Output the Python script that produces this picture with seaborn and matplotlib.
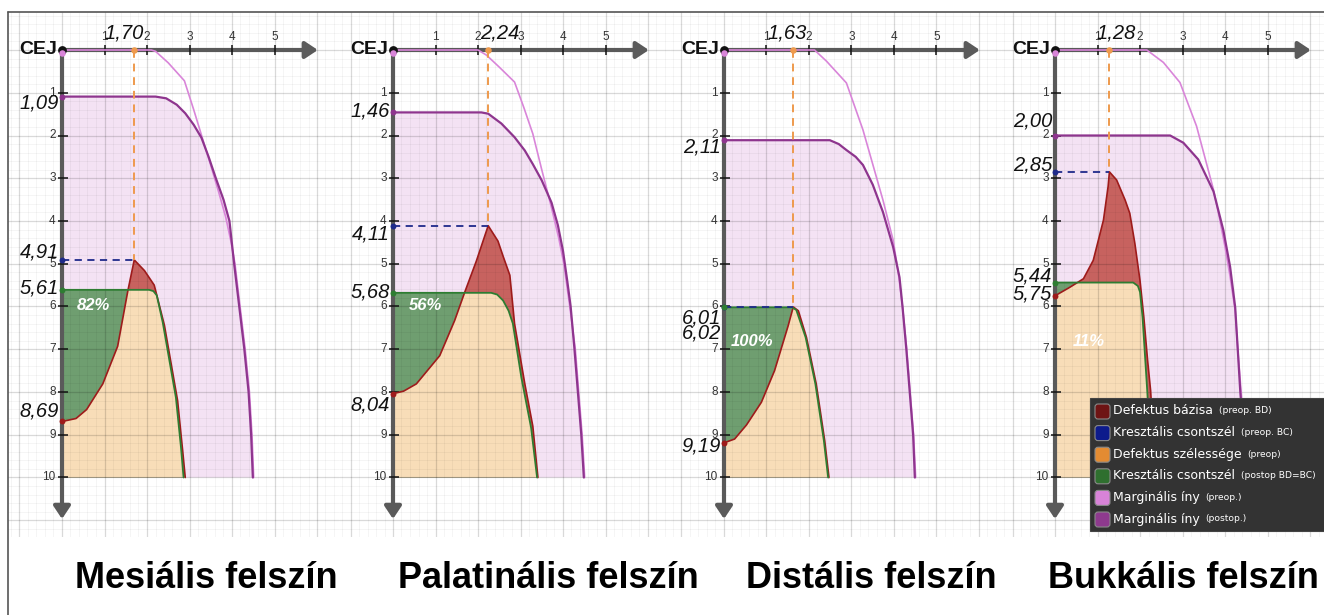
import numpy as np
import matplotlib
matplotlib.use("Agg")
import matplotlib.pyplot as plt
import seaborn as sns
from matplotlib.patches import Rectangle, FancyBboxPatch
from matplotlib.lines import Line2D
from matplotlib.text import Annotation
from matplotlib.transforms import IdentityTransform

# ---------------- DATA ----------------
surfaces = ["Mesiális felszín", "Palatinális felszín", "Distális felszín", "Bukkális felszín"]
defect_width = [1.70, 2.24, 1.63, 1.28]        # Defektus szélessége (preop)
crest_preop = [4.91, 4.11, 6.01, 2.85]         # Kresztális csontszél (preop BC)
defect_base = [8.69, 8.04, 9.19, 5.75]         # Defektus bázisa (preop BD)
crest_postop = [5.61, 5.68, 6.02, 5.44]        # Kresztális csontszél (postop)
margin_postop = [1.09, 1.46, 2.11, 2.00]       # Marginális íny (postop)
margin_preop = [0.0, 0.0, 0.0, 0.0]            # Marginális íny (preop)
fill_percent = [82, 56, 100, 11]
x_ticks = [1, 2, 3, 4, 5]
y_ticks = [1, 2, 3, 4, 5, 6, 7, 8, 9, 10]

preop_margin_x = [
    [0, 2.10, 2.20, 2.50, 2.88, 3.10, 3.30, 3.50, 3.68, 3.85, 3.98, 4.07, 4.19, 4.31, 4.41, 4.47, 4.51],
    [0, 2.00, 2.20, 2.50, 2.86, 3.08, 3.29, 3.50, 3.73, 3.90, 4.02, 4.16, 4.29, 4.37, 4.45, 4.51],
    [0, 2.13, 2.41, 2.88, 3.27, 3.74, 3.98, 4.10, 4.20, 4.30, 4.38, 4.46, 4.51],
    [0, 2.16, 2.55, 2.94, 3.33, 3.73, 3.88, 4.00, 4.12, 4.24, 4.30, 4.38, 4.46, 4.51],
]
preop_margin_y = [
    [0, 0.00, 0.03, 0.30, 0.72, 1.40, 2.05, 2.70, 3.30, 3.90, 4.50, 5.00, 6.00, 7.00, 8.00, 9.00, 10.0],
    [0, 0.00, 0.12, 0.40, 0.75, 1.35, 1.96, 2.80, 3.69, 4.40, 5.00, 6.00, 7.00, 8.00, 9.00, 10.0],
    [0, 0.00, 0.26, 0.77, 1.87, 3.51, 4.45, 5.20, 6.00, 7.00, 8.00, 9.00, 10.0],
    [0, 0.00, 0.29, 0.76, 1.78, 3.27, 3.98, 4.60, 5.30, 6.10, 7.00, 8.00, 9.00, 10.0],
]
postop_margin_x = [
    [0, 2.20, 2.45, 2.70, 2.90, 3.10, 3.28, 3.45, 3.62, 3.80, 3.94, 4.05, 4.17, 4.29, 4.39, 4.45, 4.49],
    [0, 2.08, 2.24, 2.55, 2.86, 3.10, 3.29, 3.50, 3.73, 3.88, 4.00, 4.10, 4.18, 4.27, 4.35, 4.43, 4.49],
    [0, 2.49, 2.70, 2.88, 3.10, 3.27, 3.50, 3.74, 3.98, 4.13, 4.20, 4.29, 4.37, 4.45, 4.49],
    [0, 2.71, 3.02, 3.37, 3.73, 3.96, 4.12, 4.24, 4.30, 4.36, 4.44, 4.49],
]
postop_margin_y = [
    [1.09, 1.09, 1.13, 1.28, 1.48, 1.75, 2.05, 2.50, 3.00, 3.50, 4.00, 5.00, 6.00, 7.00, 8.00, 9.00, 10.0],
    [1.46, 1.46, 1.49, 1.72, 2.04, 2.35, 2.67, 3.05, 3.57, 4.10, 4.70, 5.40, 6.00, 7.00, 8.00, 9.00, 10.0],
    [2.11, 2.11, 2.20, 2.34, 2.50, 2.69, 3.15, 3.79, 4.61, 5.32, 6.00, 7.00, 8.00, 9.00, 10.0],
    [2.00, 2.00, 2.17, 2.56, 3.31, 4.21, 5.07, 6.02, 7.00, 8.00, 9.00, 10.0],
]
defect_x = [
    [0, 0.33, 0.58, 0.96, 1.31, 1.55, 1.70, 1.94, 2.17, 2.41, 2.72, 2.84, 2.90],
    [0, 0.25, 0.55, 1.10, 1.45, 1.69, 1.96, 2.24, 2.47, 2.60, 2.75, 2.86, 3.10, 3.29, 3.41],
    [0, 0.25, 0.53, 0.88, 1.19, 1.51, 1.63, 1.75, 1.94, 2.17, 2.37, 2.47],
    [0, 0.35, 0.67, 0.90, 1.14, 1.25, 1.28, 1.45, 1.65, 1.76, 1.88, 2.00, 2.09, 2.18, 2.25, 2.31, 2.36],
]
defect_y = [
    [8.69, 8.62, 8.41, 7.81, 6.93, 5.63, 4.91, 5.16, 5.50, 6.44, 8.20, 9.38, 10.0],
    [8.04, 7.98, 7.81, 7.15, 6.33, 5.66, 4.94, 4.11, 4.47, 4.85, 5.27, 6.40, 7.80, 8.80, 10.0],
    [9.19, 9.10, 8.77, 8.24, 7.50, 6.45, 6.01, 6.10, 6.72, 7.81, 9.14, 10.0],
    [5.75, 5.55, 5.35, 4.92, 3.98, 3.19, 2.85, 3.04, 3.51, 3.82, 4.53, 5.39, 6.25, 7.27, 7.97, 9.00, 10.0],
]
crest_x = [
    [0, 2.05, 2.15, 2.23, 2.37, 2.68, 2.80, 2.86],
    [0, 2.31, 2.45, 2.59, 2.72, 2.82, 3.02, 3.25, 3.39],
    [0, 1.60, 1.70, 1.92, 2.15, 2.35, 2.45],
    [0, 1.84, 1.95, 2.00, 2.06, 2.17, 2.23, 2.28],
]
crest_y = [
    [5.61, 5.61, 5.64, 5.74, 6.37, 8.13, 9.30, 10.0],
    [5.68, 5.68, 5.72, 5.86, 6.10, 6.40, 7.66, 8.84, 10.0],
    [6.02, 6.02, 6.08, 6.72, 7.81, 9.14, 10.0],
    [5.44, 5.44, 5.52, 5.66, 6.25, 7.97, 9.00, 10.0],
]
legend_labels = ["Defektus bázisa", "Kresztális csontszél", "Defektus szélessége",
                 "Kresztális csontszél", "Marginális íny", "Marginális íny"]
legend_notes = ["(preop. BD)", "(preop. BC)", "(preop)", "(postop BD=BC)", "(preop.)", "(postop.)"]

# ---------------- STYLE / LAYOUT ----------------
sns.set_style("white")
plt.rcParams["font.family"] = ["Liberation Sans", "DejaVu Sans"]

C_RED_LINE = "#9E1B1B"
C_RED_FILL = "#C7625F"
C_GREEN_LINE = "#2E7D32"
C_GREEN_FILL = "#6F9E70"
C_PEACH = "#F8DDB8"
C_PINK_FILL = "#F4E2F4"
C_PREOP = "#D985D9"
C_POSTOP = "#8E358E"
C_ORANGE = "#EE9A4D"
C_NAVY = "#1F2A8A"
C_AXIS = "#5A5A5A"

W, H = 1324, 615
PX_X, PX_Y = 42.5, 42.75
ORIGIN_X = [62, 393, 724, 1055]
ORIGIN_Y = 50
PANEL_EDGES = [(8, 339), (339, 670), (670, 1001), (1001, 1324)]
GRID_TOP, GRID_BOTTOM = 12, 537
TITLE_X = [206, 548, 871, 1183]
# label placement (layout only)
label_dy = [
    {"post": 0.16, "bc": -0.19, "crest": -0.05, "bd": -0.25},
    {"post": -0.03, "bc": 0.20, "crest": -0.02, "bd": 0.26},
    {"post": 0.17, "bc": 0.26, "crest": 0.61, "bd": 0.07},
    {"post": -0.34, "bc": -0.17, "crest": -0.15, "bd": -0.05},
]
width_label_dx = [-0.24, 0.27, -0.14, 0.17]
pct_pos = [(0.75, 5.98), (0.76, 5.98), (0.67, 6.81), (0.80, 6.81)]


def fmt(v):
    return f"{v:.2f}".replace(".", ",")


fig = plt.figure(figsize=(W / 100, H / 100), dpi=100)
fig.patch.set_facecolor("white")

for i in range(4):
    L, R = PANEL_EDGES[i]
    ax = fig.add_axes([L / W, 1 - GRID_BOTTOM / H, (R - L) / W, (GRID_BOTTOM - GRID_TOP) / H])
    ox = ORIGIN_X[i]
    xlim = ((L - ox) / PX_X, (R - ox) / PX_X)
    ylim = ((GRID_BOTTOM - ORIGIN_Y) / PX_Y, (GRID_TOP - ORIGIN_Y) / PX_Y)

    # grid
    ax.set_xticks(np.arange(-2, 9, 1.0))
    ax.set_xticks(np.arange(-2, 9, 0.2), minor=True)
    ax.set_yticks(np.arange(-2, 13, 1.0))
    ax.set_yticks(np.arange(-2, 13, 0.2), minor=True)
    ax.grid(True, which="major", color="black", alpha=0.15, lw=0.9)
    ax.grid(True, which="minor", color="black", alpha=0.06, lw=0.5)
    ax.set_axisbelow(False)
    ax.tick_params(which="both", length=0, labelbottom=False, labelleft=False)
    for s in ax.spines.values():
        s.set_visible(False)

    # fills
    px = list(postop_margin_x[i]) + [0]
    py = list(postop_margin_y[i]) + [10]
    ax.fill(px, py, color=C_PINK_FILL, lw=0, zorder=1.0)
    mx = list(defect_x[i]) + [0]
    my = list(defect_y[i]) + [10]
    ax.fill(mx, my, color=C_RED_FILL, lw=0, zorder=1.2)
    gx = list(crest_x[i]) + [0]
    gy = list(crest_y[i]) + [10]
    gpatch = ax.fill(gx, gy, color=C_GREEN_FILL, lw=0, zorder=1.4)[0]
    peach = ax.fill(mx, my, color=C_PEACH, lw=0, zorder=1.6)[0]
    peach.set_clip_path(gpatch)

    # axes arrows
    ax.annotate("", xy=(6.02, 0), xytext=(0, 0),
                arrowprops=dict(arrowstyle="-|>,head_length=0.75,head_width=0.5",
                                lw=3, color=C_AXIS, shrinkA=0, shrinkB=0, mutation_scale=10),
                zorder=4.5)
    ax.annotate("", xy=(0, 10.97), xytext=(0, 0),
                arrowprops=dict(arrowstyle="-|>,head_length=0.75,head_width=0.5",
                                lw=3, color=C_AXIS, shrinkA=0, shrinkB=0, mutation_scale=10),
                zorder=4.5)
    ax.vlines(x_ticks, -0.11, 0.11, color="#111111", lw=1.1, zorder=4.6)
    ax.hlines(y_ticks, -0.10, 0.14, color="#111111", lw=1.1, zorder=4.6)
    for t in x_ticks:
        ax.text(t, -0.30, str(t), ha="center", va="center", fontsize=8.5, color="#333333", zorder=12)
    for t in y_ticks:
        ax.text(-0.15, t, str(t), ha="right", va="center", fontsize=8.5, color="#333333", zorder=12)
    ax.text(-0.12, 0.0, "CEJ", ha="right", va="center", fontsize=14, fontweight="bold",
            color="#111111", zorder=12)

    # curves
    sns.lineplot(x=preop_margin_x[i], y=preop_margin_y[i], sort=False, estimator=None, ax=ax,
                 color=C_PREOP, lw=1.2, zorder=5)
    sns.lineplot(x=postop_margin_x[i], y=postop_margin_y[i], sort=False, estimator=None, ax=ax,
                 color=C_POSTOP, lw=1.6, zorder=6)
    sns.lineplot(x=defect_x[i], y=defect_y[i], sort=False, estimator=None, ax=ax,
                 color=C_RED_LINE, lw=1.2, zorder=7)
    sns.lineplot(x=crest_x[i], y=crest_y[i], sort=False, estimator=None, ax=ax,
                 color=C_GREEN_LINE, lw=1.3, zorder=8)

    w = defect_width[i]
    bc = crest_preop[i]
    sns.lineplot(x=[w, w], y=[0, bc], sort=False, estimator=None, ax=ax,
                 color=C_ORANGE, lw=1.4, linestyle=(0, (4, 3)), zorder=9)
    sns.lineplot(x=[0, w], y=[bc, bc], sort=False, estimator=None, ax=ax,
                 color=C_NAVY, lw=1.3, linestyle=(0, (4, 3)), zorder=9)

    # points
    sns.scatterplot(x=[0], y=[0], color="#111111", s=40, ax=ax, zorder=10, linewidth=0, legend=False)
    sns.scatterplot(x=[0], y=[margin_preop[i] + 0.06], color=C_PREOP, s=22, ax=ax, zorder=11,
                    linewidth=0, legend=False)
    sns.scatterplot(x=[0], y=[margin_postop[i]], color=C_POSTOP, s=18, ax=ax, zorder=11,
                    linewidth=0, legend=False)
    sns.scatterplot(x=[0], y=[bc], color=C_NAVY, s=18, ax=ax, zorder=11, linewidth=0, legend=False)
    sns.scatterplot(x=[0], y=[crest_postop[i]], color=C_GREEN_LINE, s=18, ax=ax, zorder=11,
                    linewidth=0, legend=False)
    sns.scatterplot(x=[0], y=[defect_base[i]], color=C_RED_LINE, s=18, ax=ax, zorder=11,
                    linewidth=0, legend=False)
    sns.scatterplot(x=[w], y=[0], color=C_ORANGE, s=22, ax=ax, zorder=11, linewidth=0, legend=False)

    # value labels
    d = label_dy[i]
    for key, val in (("post", margin_postop[i]), ("bc", bc), ("crest", crest_postop[i]),
                     ("bd", defect_base[i])):
        ax.text(-0.07, val + d[key], fmt(val), ha="right", va="center", fontsize=14.5,
                style="italic", color="#111111", zorder=12)
    ax.text(w + width_label_dx[i], -0.40, fmt(w), ha="center", va="center", fontsize=14.5,
            style="italic", color="#111111", zorder=12)
    ax.text(pct_pos[i][0], pct_pos[i][1], f"{fill_percent[i]}%", ha="center", va="center",
            fontsize=12, fontweight="bold", style="italic", color="white", zorder=12)

    ax.set_xlim(*xlim)
    ax.set_ylim(*ylim)
    ax.set_xlabel("")
    ax.set_ylabel("")

    fig.text(TITLE_X[i] / W, 1 - 579 / H, surfaces[i], ha="center", va="center",
             fontsize=26, fontweight="bold", color="black")

# border lines
fig.add_artist(Line2D([8 / W, 1], [1 - 12 / H, 1 - 12 / H], transform=fig.transFigure,
                      color="#555555", lw=1.2))
fig.add_artist(Line2D([8 / W, 8 / W], [0, 1 - 12 / H], transform=fig.transFigure,
                      color="#555555", lw=1.2))

# legend
leg_colors = ["#6E1414", "#0D1B8C", "#E38B32", "#2F6F2F", "#D883D8", "#8E3A8E"]
fig.add_artist(Rectangle((1090 / W, 1 - 531 / H), (W - 1090) / W, (531 - 398) / H,
                         transform=fig.transFigure, facecolor="#333333", edgecolor="#444444",
                         lw=0.8, zorder=20))
for k, (lab, note, col) in enumerate(zip(legend_labels, legend_notes, leg_colors)):
    yc = 411 + k * 21.6
    sw = FancyBboxPatch((1095, H - yc - 8), 15, 15, boxstyle="round,pad=0,rounding_size=3",
                        transform=IdentityTransform(), facecolor=col, edgecolor="#8a8a8a",
                        lw=0.8, zorder=21)
    fig.add_artist(sw)
    t = fig.text(1113 / W, 1 - yc / H, lab, ha="left", va="center", fontsize=9, color="white",
                 family="DejaVu Sans", zorder=22)
    ann = Annotation(note, xy=(1, 0), xycoords=t, xytext=(4, 1.5), textcoords="offset points",
                     ha="left", va="bottom", fontsize=6.6, color="white", family="DejaVu Sans",
                     zorder=22)
    fig.add_artist(ann)

fig.savefig("out.png", dpi=100)
